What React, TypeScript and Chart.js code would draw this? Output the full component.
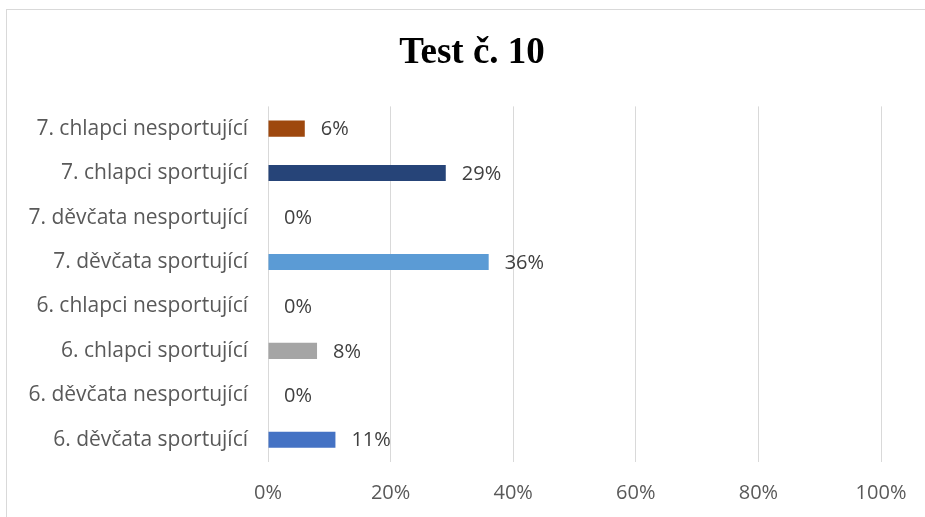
import React, { useEffect, useRef } from "react";
import { Chart, registerables } from "chart.js";

Chart.register(...registerables);

const categories = [
  "7. chlapci nesportující",
  "7. chlapci sportující",
  "7. děvčata nesportující",
  "7. děvčata sportující",
  "6. chlapci nesportující",
  "6. chlapci sportující",
  "6. děvčata nesportující",
  "6. děvčata sportující",
];
const values = [6, 29, 0, 36, 0, 8, 0, 11];
const barColors = [
  "#9E480E",
  "#264478",
  "#636363",
  "#5B9BD5",
  "#ED7D31",
  "#A5A5A5",
  "#ED7D31",
  "#4472C4",
];
const tickValues = [0, 20, 40, 60, 80, 100];
const titleText = "Test č. 10";

const FONT = "'Open Sans', 'DejaVu Sans', sans-serif";

const dataLabelPlugin = {
  id: "dataLabels",
  afterDatasetsDraw(chart: any) {
    const ctx = chart.ctx;
    const meta = chart.getDatasetMeta(0);
    ctx.save();
    ctx.font = `20px ${FONT}`;
    ctx.fillStyle = "#404040";
    ctx.textAlign = "left";
    ctx.textBaseline = "middle";
    meta.data.forEach((bar: any, i: number) => {
      ctx.fillText(values[i] + "%", bar.x + 16, bar.y + 1);
    });
    ctx.restore();
  },
};

export default function App() {
  const ref = useRef<HTMLCanvasElement | null>(null);

  useEffect(() => {
    if (!ref.current) return;
    const chart = new Chart(ref.current, {
      type: "bar",
      data: {
        labels: categories,
        datasets: [
          {
            data: values,
            backgroundColor: barColors,
            borderWidth: 0,
            categoryPercentage: 1,
            barPercentage: 0.36,
          },
        ],
      },
      options: {
        indexAxis: "y",
        animation: false,
        responsive: false,
        maintainAspectRatio: false,
        layout: { padding: 0 },
        plugins: {
          legend: { display: false },
          tooltip: { enabled: false },
          title: {
            display: true,
            text: titleText,
            color: "#000000",
            font: { family: "'Liberation Serif', 'Times New Roman', serif", size: 37, weight: "bold", lineHeight: 1.2 },
            padding: { top: 31, bottom: 31 },
          },
        },
        scales: {
          x: {
            min: 0,
            max: 100,
            afterFit: (scale: any) => {
              scale.height = 55;
            },
            afterBuildTicks: (scale: any) => {
              scale.ticks = tickValues.map((v) => ({ value: v }));
            },
            ticks: {
              padding: 19,
              color: "#595959",
              font: { family: FONT, size: 20 },
              callback: (v: any) => v + "%",
              maxRotation: 0,
            },
            grid: { color: "#d9d9d9", lineWidth: 1, drawTicks: false },
            border: { display: false },
          },
          y: {
            afterFit: (scale: any) => {
              scale.width = 268;
            },
            ticks: {
              padding: 20,
              color: "#595959",
              font: { family: FONT, size: 21 },
            },
            grid: { display: false, drawTicks: false },
            border: { display: false },
          },
          yRight: {
            type: "category",
            position: "right",
            labels: categories,
            afterFit: (scale: any) => {
              scale.width = 63;
            },
            ticks: { display: false },
            grid: { display: false, drawTicks: false },
            border: { display: false },
          },
        },
      },
      plugins: [dataLabelPlugin],
    } as any);
    return () => chart.destroy();
  }, []);

  return (
    <div style={{ position: "fixed", left: 0, top: 0, width: 925, height: 517, overflow: "hidden", background: "#ffffff" }}>
      <canvas ref={ref} width={944} height={517} style={{ position: "absolute", left: 0, top: 0, width: 944, height: 517 }} />
      <div
        style={{
          position: "absolute",
          left: 6,
          top: 9,
          width: 960,
          height: 540,
          border: "1px solid #d9d9d9",
          pointerEvents: "none",
        }}
      />
    </div>
  );
}
